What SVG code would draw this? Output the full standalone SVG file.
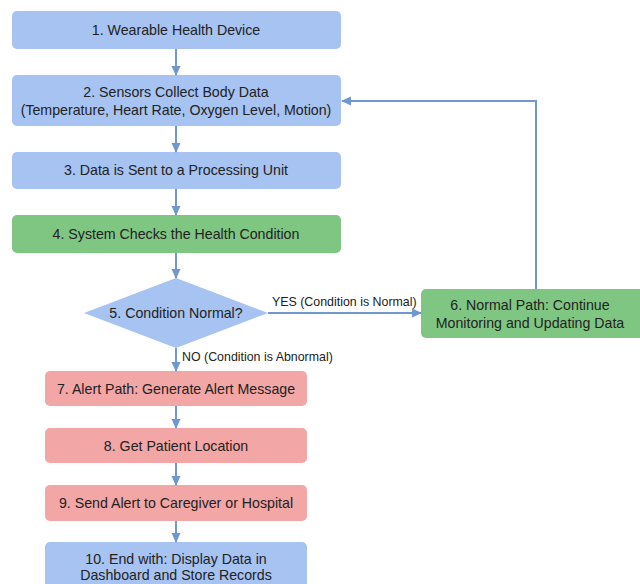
<svg xmlns="http://www.w3.org/2000/svg" width="640" height="584" viewBox="0 0 640 584">
<defs>
<marker id="ah" markerWidth="10" markerHeight="10" refX="9" refY="5" orient="auto" markerUnits="userSpaceOnUse">
<path d="M0,0.5 L10,5 L0,9.5 z" fill="#6f98d0"/>
</marker>
<style>
.blue{fill:#a6c3f2}
.green{fill:#80c683}
.red{fill:#f2a6a6}
.t{font-family:"Liberation Sans",Arial,sans-serif;font-size:14.2px;fill:#222;text-anchor:middle}
.l{font-family:"Liberation Sans",Arial,sans-serif;font-size:12.4px;fill:#222}
.c{stroke:#6f98d0;stroke-width:2;fill:none;marker-end:url(#ah)}
</style>
</defs>
<rect width="640" height="584" fill="#fff"/>
<g id="n1"><rect class="blue" x="12" y="11" width="329" height="38" rx="5"/><text class="t" x="176" y="35">1. Wearable Health Device</text></g>
<g id="n2"><rect class="blue" x="12" y="75" width="329" height="51" rx="5"/><text class="t" x="176" y="97">2. Sensors Collect Body Data</text><text class="t" x="176" y="115">(Temperature, Heart Rate, Oxygen Level, Motion)</text></g>
<g id="n3"><rect class="blue" x="12" y="152" width="329" height="37" rx="5"/><text class="t" x="176" y="175">3. Data is Sent to a Processing Unit</text></g>
<g id="n4"><rect class="green" x="12" y="215" width="329" height="38" rx="5"/><text class="t" x="176" y="239">4. System Checks the Health Condition</text></g>
<g id="n5"><polygon class="blue" points="176,278 268,313 176,348 84,313"/><text class="t" x="176" y="318">5. Condition Normal?</text></g>
<g id="n6"><rect class="green" x="421" y="289" width="225" height="49" rx="5"/><text class="t" x="530" y="310">6. Normal Path: Continue</text><text class="t" x="530" y="328">Monitoring and Updating Data</text></g>
<g id="n7"><rect class="red" x="45" y="371" width="262" height="35" rx="5"/><text class="t" x="176" y="394">7. Alert Path: Generate Alert Message</text></g>
<g id="n8"><rect class="red" x="45" y="428" width="262" height="35" rx="5"/><text class="t" x="176" y="451">8. Get Patient Location</text></g>
<g id="n9"><rect class="red" x="45" y="485" width="262" height="36" rx="5"/><text class="t" x="176" y="508">9. Send Alert to Caregiver or Hospital</text></g>
<g id="n10"><rect class="blue" x="45" y="542" width="262" height="50" rx="5"/><text class="t" x="176" y="564">10. End with: Display Data in</text><text class="t" x="176" y="580">Dashboard and Store Records</text></g>
<g id="connectors">
<line class="c" x1="176" y1="49" x2="176" y2="75"/>
<line class="c" x1="176" y1="126" x2="176" y2="152"/>
<line class="c" x1="176" y1="189" x2="176" y2="215"/>
<line class="c" x1="176" y1="253" x2="176" y2="278"/>
<line class="c" x1="268" y1="313" x2="421" y2="313"/>
<text class="l" x="272" y="306">YES (Condition is Normal)</text>
<line class="c" x1="176" y1="348" x2="176" y2="371"/>
<text class="l" x="182" y="361">NO (Condition is Abnormal)</text>
<polyline class="c" points="536,289 536,101 342,101"/>
<line class="c" x1="176" y1="406" x2="176" y2="428"/>
<line class="c" x1="176" y1="463" x2="176" y2="485"/>
<line class="c" x1="176" y1="521" x2="176" y2="542"/>
</g>
</svg>
